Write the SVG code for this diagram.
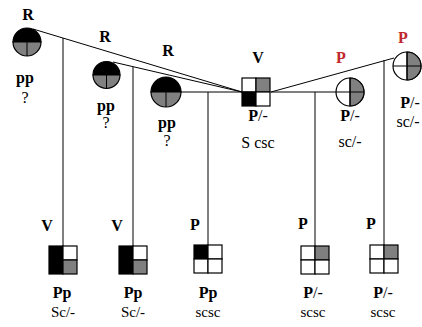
<svg xmlns="http://www.w3.org/2000/svg" width="422" height="327" viewBox="0 0 422 327">
<style>
text{font-family:"Liberation Serif","Times New Roman",serif;font-size:16px;text-anchor:middle;fill:#000}
.b{font-weight:bold}
.s{font-size:15px}
.red{fill:#c0282e}
.ln{stroke:#000;stroke-width:1;fill:none}
.q{stroke:#000;stroke-width:1.2}
.w{fill:#fff}
.k{fill:#000}
.g{fill:#808080}
</style>
<rect width="422" height="327" fill="#fff"/>
<g id="connectors" class="ln">
<line x1="33" y1="29" x2="242" y2="92"/>
<line x1="113" y1="62" x2="242" y2="92"/>
<line x1="181" y1="92" x2="242" y2="92"/>
<line x1="271" y1="92" x2="394" y2="58"/>
<line x1="271" y1="92" x2="336" y2="92"/>
<line x1="63" y1="38" x2="63" y2="246"/>
<line x1="133" y1="67" x2="133" y2="246"/>
<line x1="208" y1="92" x2="208" y2="245"/>
<line x1="315" y1="92" x2="315" y2="246"/>
<line x1="384" y1="60" x2="384" y2="245"/>
</g>
<g id="r1">
<path class="q k" d="M13,42 A14,14 0 0 1 41,42 Z"/>
<path class="q g" d="M13,42 A14,14 0 0 0 41,42 Z"/>
<line class="ln" x1="27" y1="42" x2="27" y2="56"/>
<text class="b" x="28" y="20">R</text>
<text class="b" x="25" y="83">pp</text>
<text x="25" y="103">?</text>
</g>
<g id="r2">
<path class="q k" d="M93,75 A13.5,13.5 0 0 1 120,75 Z"/>
<path class="q g" d="M93,75 A13.5,13.5 0 0 0 120,75 Z"/>
<line class="ln" x1="106.5" y1="75" x2="106.5" y2="88.5"/>
<text class="b" x="105" y="42">R</text>
<text class="b" x="106" y="111">pp</text>
<text x="106" y="128">?</text>
</g>
<g id="r3">
<path class="q k" d="M151,92 A15,15 0 0 1 181,92 Z"/>
<path class="q g" d="M151,92 A15,15 0 0 0 181,92 Z"/>
<line class="ln" x1="166" y1="92" x2="166" y2="107"/>
<text class="b" x="168" y="56">R</text>
<text class="b" x="167" y="128">pp</text>
<text x="167" y="146">?</text>
</g>
<g id="v-parent">
<rect class="q w" x="242" y="78" width="14" height="14"/>
<rect class="q g" x="256" y="78" width="14" height="14"/>
<rect class="q k" x="242" y="92" width="14" height="14"/>
<rect class="q w" x="256" y="92" width="14" height="14"/>
<text class="b" x="258" y="63">V</text>
<text x="258" y="121"><tspan class="b">P</tspan>/-</text>
<text x="258" y="148">S csc</text>
</g>
<g id="p1">
<path class="q w" d="M336,92 A14,14 0 0 1 364,92 A14,14 0 0 1 336,92 Z"/>
<path class="q g" d="M350,78 A14,14 0 0 1 350,106 Z"/>
<line class="ln" x1="336" y1="92" x2="364" y2="92"/>
<line class="ln" x1="350" y1="78" x2="350" y2="106"/>
<text class="b red" x="341" y="63">P</text>
<text x="350" y="121"><tspan class="b">P</tspan>/-</text>
<text x="350" y="147">sc/-</text>
</g>
<g id="p2">
<path class="q w" d="M393,66 A14,14 0 0 1 421,66 A14,14 0 0 1 393,66 Z"/>
<path class="q g" d="M407,52 A14,14 0 0 1 407,80 Z"/>
<line class="ln" x1="393" y1="66" x2="421" y2="66"/>
<line class="ln" x1="407" y1="52" x2="407" y2="80"/>
<text class="b red" x="403" y="43">P</text>
<text x="410" y="108"><tspan class="b">P</tspan>/-</text>
<text x="408" y="127">sc/-</text>
</g>
<g id="c1">
<rect class="q k" x="49" y="246" width="14" height="28"/>
<rect class="q w" x="63" y="246" width="14" height="14"/>
<rect class="q g" x="63" y="260" width="14" height="14"/>
<text class="b" x="47" y="231">V</text>
<text class="b" x="62" y="298">Pp</text>
<text class="s" x="63" y="317">Sc/-</text>
</g>
<g id="c2">
<rect class="q k" x="119" y="246" width="14" height="28"/>
<rect class="q w" x="133" y="246" width="14" height="14"/>
<rect class="q g" x="133" y="260" width="14" height="14"/>
<text class="b" x="117" y="231">V</text>
<text class="b" x="133" y="298">Pp</text>
<text class="s" x="133" y="317">Sc/-</text>
</g>
<g id="c3">
<rect class="q k" x="194" y="245" width="14" height="14"/>
<rect class="q w" x="208" y="245" width="14" height="14"/>
<rect class="q w" x="194" y="259" width="14" height="14"/>
<rect class="q w" x="208" y="259" width="14" height="14"/>
<text class="b" x="195" y="230">P</text>
<text class="b" x="208" y="298">Pp</text>
<text class="s" x="208" y="317">scsc</text>
</g>
<g id="c4">
<rect class="q w" x="301" y="246" width="14" height="14"/>
<rect class="q g" x="315" y="246" width="14" height="14"/>
<rect class="q w" x="301" y="260" width="14" height="14"/>
<rect class="q w" x="315" y="260" width="14" height="14"/>
<text class="b" x="303" y="229">P</text>
<text x="313" y="298"><tspan class="b">P</tspan>/-</text>
<text class="s" x="313" y="317">scsc</text>
</g>
<g id="c5">
<rect class="q w" x="370" y="245" width="14" height="14"/>
<rect class="q g" x="384" y="245" width="14" height="14"/>
<rect class="q w" x="370" y="259" width="14" height="14"/>
<rect class="q w" x="384" y="259" width="14" height="14"/>
<text class="b" x="371" y="229">P</text>
<text x="383" y="298"><tspan class="b">P</tspan>/-</text>
<text class="s" x="383" y="317">scsc</text>
</g>
</svg>
